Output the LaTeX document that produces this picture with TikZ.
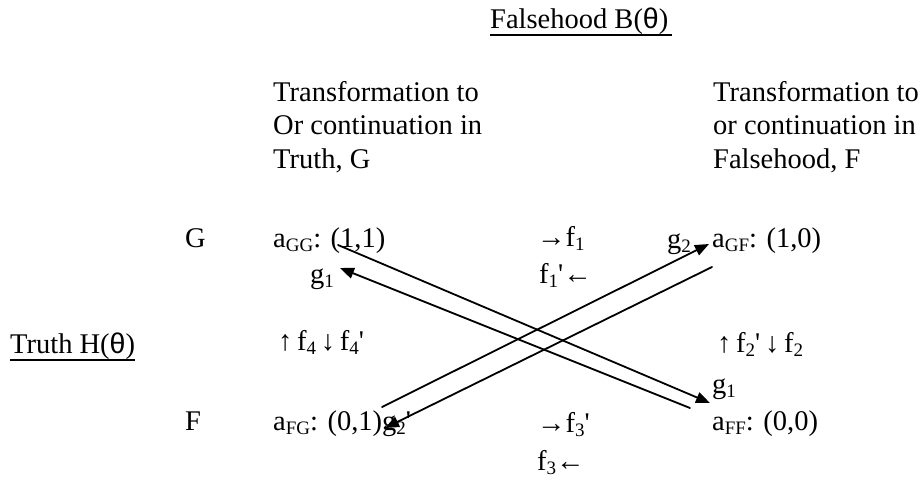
\documentclass[tikz,border=0pt]{standalone}
\usepackage{fontspec}
\setmainfont{Liberation Serif}[Ligatures=TeXOff]
\newfontfamily\thetafont{Liberation Sans}
\usetikzlibrary{arrows.meta}
\newcommand\lo[1]{\raisebox{-4pt}{\fontsize{19}{19}\selectfont #1}}
\newcommand\thetasym{{\thetafont θ}}
\tikzset{
  lbl/.style={anchor=base west, inner sep=0pt, align=left, font=\fontsize{28.5}{33.5}\selectfont},
  conn/.style={line width=1.8pt, line cap=round},
  tip/.style={-{Triangle[length=14pt,width=11pt]}},
  uline/.style={line width=2pt}
}
\begin{document}
\begin{tikzpicture}[x=1pt,y=-1pt]
\useasboundingbox (0,0) rectangle (923,479);
% titles
\node[lbl] (falsehood) at (490,28) {Falsehood B(\thetasym)};
\draw[uline] ([yshift=-7pt]falsehood.base west) -- ++(182pt,0);
\node[lbl] (truth) at (10,353) {Truth H(\thetasym)};
\draw[uline] ([yshift=-7pt]truth.base west) -- ([yshift=-7pt]truth.base east);
% column headers (base = last line)
\node[lbl] (colG) at (273,168) {Transformation to\\Or continuation in\\Truth, G};
\node[lbl] (colF) at (713,168) {Transformation to\\or continuation in\\Falsehood, F};
% row labels
\node[lbl] (rowG) at (185,247) {G};
\node[lbl] (rowF) at (185,430) {F};
% states
\node[lbl] (aGG) at (273,247) {a\lo{GG}: (1,1)};
\node[lbl] (aGF) at (712,247) {a\lo{GF}: (1,0)};
\node[lbl] (aFG) at (273,430) {a\lo{FG}: (0,1)g\lo{2}'};
\node[lbl] (aFF) at (712,430) {a\lo{FF}: (0,0)};
% labels
\node[lbl] (g2) at (667,248) {g\lo{2}};
\node[lbl] (g1a) at (310,283) {g\lo{1}};
\node[lbl] (g1b) at (712,393) {g\lo{1}};
\node[lbl] (f1) at (537,246) {→f\lo{1}};
\node[lbl] (f1p) at (539,283) {f\lo{1}'←};
\node[lbl] (f4) at (278,350) {↑\,f\lo{4}\,↓\,f\lo{4}'};
\node[lbl] (f2) at (717,352) {↑\,f\lo{2}'\,↓\,f\lo{2}};
\node[lbl] (f3p) at (537,432) {→f\lo{3}'};
\node[lbl] (f3) at (537,470) {f\lo{3}←};
% connector ends
\coordinate (A1) at (338,245);
\coordinate (A2) at (710,403);
\coordinate (B1) at (690,408);
\coordinate (B2) at (340,268);
\coordinate (C1) at (382,407);
\coordinate (C2) at (709,244);
\coordinate (D1) at (712,267);
\coordinate (D2) at (385,428);
\draw[conn,tip] (A1) -- (A2);
\draw[conn,tip] (B1) -- (B2);
\draw[conn,tip] (C1) -- (C2);
\draw[conn,tip] (D1) -- (D2);
\end{tikzpicture}
\end{document}
